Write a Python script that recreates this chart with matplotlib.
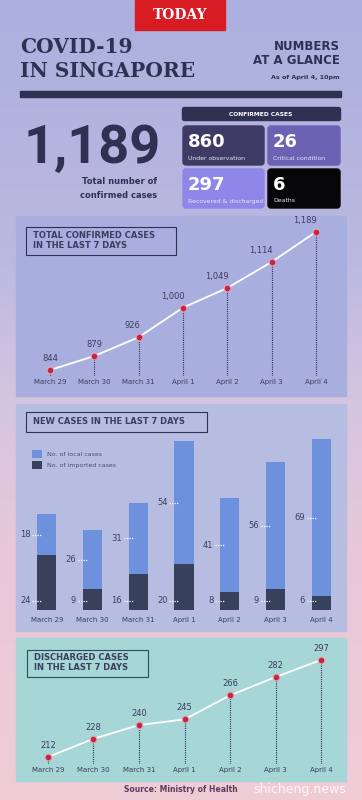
import matplotlib.pyplot as plt
import numpy as np
from matplotlib.patches import Rectangle, FancyBboxPatch

# data
dates = ['March 29', 'March 30', 'March 31', 'April 1', 'April 2', 'April 3', 'April 4']
total_cases = [844, 879, 926, 1000, 1049, 1114, 1189]
local_cases = [18, 26, 31, 54, 41, 56, 69]
imported_cases = [24, 9, 16, 20, 8, 9, 6]
discharged = [212, 228, 240, 245, 266, 282, 297]

total_now = '1,189'
box_values = ['860', '26', '297', '6']
box_labels = ['Under observation', 'Critical condition', 'Recovered & discharged', 'Deaths']

NAVY = '#2e3152'
TXT = '#3b3e5e'
W, H = 362, 800

fig = plt.figure(figsize=(3.62, 8.0), dpi=100)
bg = fig.add_axes([0, 0, 1, 1])
bg.set_xlim(0, W)
bg.set_ylim(H, 0)
bg.axis('off')

# background gradient (lavender -> pink)
stops_y = [0, 250, 400, 550, 800]
stops_c = np.array([[172, 176, 222], [186, 184, 224], [212, 197, 225],
                    [232, 200, 216], [240, 204, 214]]) / 255
yy = np.arange(H)
grad = np.stack([np.interp(yy, stops_y, stops_c[:, k]) for k in range(3)], axis=1)
bg.imshow(grad[:, None, :], extent=[0, W, H, 0], aspect='auto', zorder=0)

def px_axes(l, t, r, b):
    a = fig.add_axes([l / W, 1 - b / H, (r - l) / W, (b - t) / H])
    a.set_facecolor('none')
    for s in a.spines.values():
        s.set_visible(False)
    return a

# header
bg.add_patch(Rectangle((135, 0), 90, 30, color='#d71c24', zorder=2))
bg.text(180, 15, 'TODAY', color='white', fontsize=10, fontweight='bold',
        family='DejaVu Serif', ha='center', va='center', zorder=3)
bg.text(20, 47, 'COVID-19', color=NAVY, fontsize=14.5, fontweight='bold',
        family='DejaVu Serif', ha='left', va='center')
bg.text(20, 71, 'IN SINGAPORE', color=NAVY, fontsize=14.5, fontweight='bold',
        family='DejaVu Serif', ha='left', va='center')
bg.text(340, 46, 'NUMBERS', color=NAVY, fontsize=8.5, fontweight='bold', ha='right', va='center')
bg.text(340, 61, 'AT A GLANCE', color=NAVY, fontsize=8.5, fontweight='bold', ha='right', va='center')
bg.text(340, 77, 'As of April 4, 10pm', color=NAVY, fontsize=4.6, fontweight='bold', ha='right', va='center')
bg.add_patch(Rectangle((20, 91), 321, 6, color=NAVY, zorder=2))

# big total
bg.text(24, 148, total_now, color=NAVY, fontsize=39, fontweight='bold', family='Roboto',
        ha='left', va='center')
bg.text(157, 182, 'Total number of', color=NAVY, fontsize=6, fontweight='bold', ha='right', va='center')
bg.text(157, 195, 'confirmed cases', color=NAVY, fontsize=6, fontweight='bold', ha='right', va='center')

# confirmed cases boxes
bg.add_patch(FancyBboxPatch((183, 108), 157, 12, boxstyle='round,pad=0.5,rounding_size=2',
                            color=NAVY, zorder=2))
bg.text(261, 114, 'CONFIRMED CASES', color='white', fontsize=4.3, fontweight='bold',
        ha='center', va='center', zorder=3)
box_pos = [(183, 126), (268, 126), (183, 169), (268, 169)]
box_w = [81, 72, 81, 72]
box_cols = ['#3e3a66', '#6b62b4', '#8f86ea', '#060608']
for (x0, y0), bw, c, v, lab in zip(box_pos, box_w, box_cols, box_values, box_labels):
    bg.add_patch(FancyBboxPatch((x0 + 1, y0 + 1), bw - 2, 37, boxstyle='round,pad=1,rounding_size=3',
                                color=c, zorder=2))
    bg.text(x0 + 5, y0 + 16, v, color='white', fontsize=13, fontweight='bold',
            ha='left', va='center', zorder=3)
    bg.text(x0 + 5, y0 + 32, lab, color='#e8e6f6', fontsize=4.4, ha='left', va='center', zorder=3)

# panels
bg.add_patch(Rectangle((16, 216), 330, 180, color='#a8aede', zorder=1))
bg.add_patch(Rectangle((16, 404), 330, 227, color='#b6bde0', zorder=1))
bg.add_patch(Rectangle((16, 638), 330, 143, color='#a6d6d6', zorder=1))

# title boxes
bg.add_patch(Rectangle((26, 227), 150, 28, fill=False, ec=NAVY, lw=0.8, zorder=2))
bg.text(33, 236, 'TOTAL CONFIRMED CASES', color=TXT, fontsize=6, fontweight='bold', va='center')
bg.text(33, 246, 'IN THE LAST 7 DAYS', color=TXT, fontsize=6, fontweight='bold', va='center')
bg.add_patch(Rectangle((26, 412), 181, 20, fill=False, ec=NAVY, lw=0.8, zorder=2))
bg.text(33, 422, 'NEW CASES IN THE LAST 7 DAYS', color=TXT, fontsize=6, fontweight='bold', va='center')
bg.add_patch(Rectangle((27, 650), 121, 27, fill=False, ec='#2f4a55', lw=0.8, zorder=2))
bg.text(34, 658, 'DISCHARGED CASES', color=TXT, fontsize=6, fontweight='bold', va='center')
bg.text(34, 668, 'IN THE LAST 7 DAYS', color=TXT, fontsize=6, fontweight='bold', va='center')

bg.text(181, 790, 'Source: Ministry of Health', color='#5a3e5c', fontsize=5.5, fontweight='bold',
        ha='center', va='center')
bg.text(300, 789, 'shicheng.news', color='white', fontsize=9, alpha=0.85, ha='center', va='center')

x = np.arange(len(dates))


def line_chart(ax, vals, ylo, yhi, labels, ha_list, dx_list):
    ax.set_xlim(-0.5, 6.5)
    ax.set_ylim(ylo, yhi)
    ax.vlines(x, ylo, vals, colors=NAVY, linestyles=(0, (1, 1)), lw=0.8)
    ax.plot(x, vals, color='white', lw=1.3, zorder=3)
    ax.plot(x, vals, 'o', color='#f0a0b0', ms=5, alpha=0.6, zorder=4)
    ax.plot(x, vals, 'o', color='#c02846', ms=3, zorder=5)
    for xi, v, lab, ha, dx in zip(x, vals, labels, ha_list, dx_list):
        ax.annotate(lab, (xi, v), xytext=(dx, 5), textcoords='offset points', ha=ha, va='bottom',
                    fontsize=6, color=TXT)
    ax.set_yticks([])
    ax.set_xticks(x, dates)
    ax.tick_params(axis='x', length=0, pad=2.5, labelsize=5, labelcolor=TXT)


# chart 1
ax1 = px_axes(28, 216, 338, 376)
lab1 = [f'{v:,}' for v in total_cases]
line_chart(ax1, total_cases, 829, 1229, lab1,
           ['center', 'center', 'right', 'right', 'right', 'right', 'right'],
           [0, 0, 1, 1, 1, 1, 1])

# chart 2
ax2 = px_axes(24, 430, 344, 610)
ax2.set_xlim(-0.5, 6.5)
ax2.set_ylim(0, 79)
bw = 0.42
ax2.bar(x, imported_cases, bw, color='#37415b', label='No. of imported cases', zorder=2)
ax2.bar(x, local_cases, bw, bottom=imported_cases, color='#6d91dc', label='No. of local cases', zorder=2)
for xi, imp, loc in zip(x, imported_cases, local_cases):
    for yv, lab in [(imp + loc / 2, loc), (4, imp)]:
        ax2.text(xi - 0.36, yv, str(lab), ha='right', va='center', fontsize=6, color=TXT)
        ax2.plot([xi - 0.32, xi - 0.12], [yv, yv], color='white', lw=0.9, ls=(0, (1, 1)), zorder=3)
ax2.set_yticks([])
ax2.set_xticks(x, dates)
ax2.tick_params(axis='x', length=0, pad=5, labelsize=5, labelcolor=TXT)
h, l = ax2.get_legend_handles_labels()
ax2.legend(h[::-1], l[::-1], loc='upper left', bbox_to_anchor=(26 / W, 1 - 444 / H),
           bbox_transform=fig.transFigure, frameon=False, fontsize=4.5, labelcolor='#4a4f72',
           handlelength=1.6, handleheight=1.6, labelspacing=0.6, handletextpad=0.9)

# chart 3
ax3 = px_axes(25, 645, 344, 764)
line_chart(ax3, discharged, 206, 310, [str(v) for v in discharged],
           ['center'] * 7, [0] * 7)

fig.savefig('out.png', dpi=100)
